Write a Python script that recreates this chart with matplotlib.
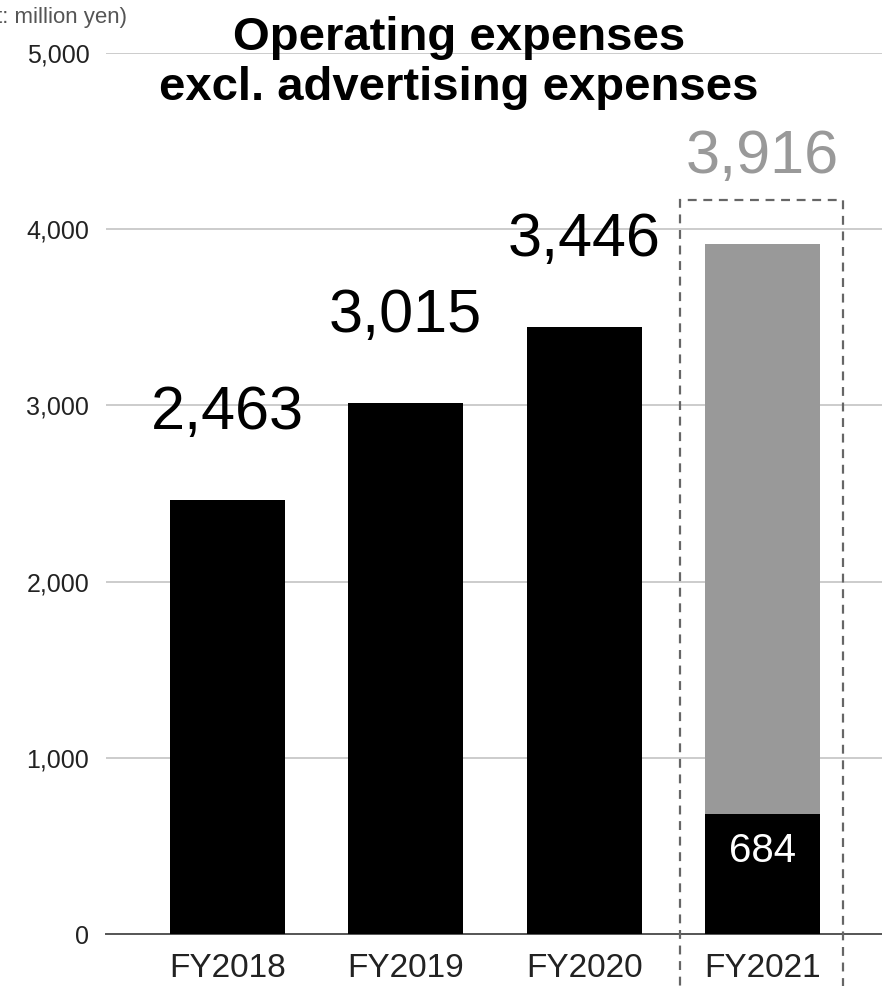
import matplotlib.pyplot as plt
from matplotlib.patches import Rectangle

# Operating expenses excluding advertising (million yen)
years = ['FY2018', 'FY2019', 'FY2020', 'FY2021']
actual = [2463, 3015, 3446, 684]
forecast_total = 3916
yticks = [0, 1000, 2000, 3000, 4000, 5000]

plt.rcParams['font.family'] = ['Liberation Sans', 'DejaVu Sans']

fig = plt.figure(figsize=(8.82, 9.86), dpi=100)
ax = fig.add_axes([0.1202, 0.0527, 0.8798, 0.8935])

x = range(len(years))
w = 0.645
gray = '#999999'

# FY2021 forecast stacked on top of the first-quarter actual
ax.bar(3, forecast_total - actual[3], w, bottom=actual[3], color=gray, zorder=2)
ax.bar(x, actual, w, color='black', zorder=3)

for i in range(3):
    ax.annotate(f'{actual[i]:,}', (i, actual[i]), xytext=(0, 62),
                textcoords='offset points', ha='center', va='center',
                fontsize=44, color='black')
ax.annotate(f'{forecast_total:,}', (3, forecast_total), xytext=(0, 62),
            textcoords='offset points', ha='center', va='center',
            fontsize=44, color=gray)
ax.annotate(f'{actual[3]:,}', (3, actual[3]), xytext=(0, -27),
            textcoords='offset points', ha='center', va='center',
            fontsize=29, color='white', zorder=4)

# dashed frame around the FY2021 column
ax.add_patch(Rectangle((2.54, -500), 0.914, 4666, fill=False,
                       edgecolor='#666666', linestyle=(0, (4, 3)),
                       linewidth=1.6, clip_on=False, zorder=5))

ax.set_xlim(-0.68, 3.67)
ax.set_ylim(0, 5000)
ax.set_yticks(yticks)
ax.set_yticklabels([f'{v:,}' for v in yticks], fontsize=18, color='#222222')
ax.set_xticks(list(x))
ax.set_xticklabels(years, fontsize=24, color='#222222')
ax.tick_params(axis='both', length=0)
ax.tick_params(axis='y', pad=12)
ax.tick_params(axis='x', pad=14)

ax.yaxis.grid(True, color='#cccccc', linewidth=1.4, zorder=0)
ax.set_axisbelow(True)
for s in ['top', 'right', 'left']:
    ax.spines[s].set_visible(False)
ax.spines['bottom'].set_color('#555555')
ax.spines['bottom'].set_linewidth(1.4)

fig.text(0.52, 1 - 63 / 986, 'Operating expenses\nexcl. advertising expenses',
         ha='center', va='center', fontsize=34, fontweight='bold',
         linespacing=1.2)
fig.text(127 / 882, 1 - 18 / 986, '(Unit: million yen)', ha='right',
         va='center', fontsize=16, color='#555555')

fig.savefig('out.png', dpi=100)
